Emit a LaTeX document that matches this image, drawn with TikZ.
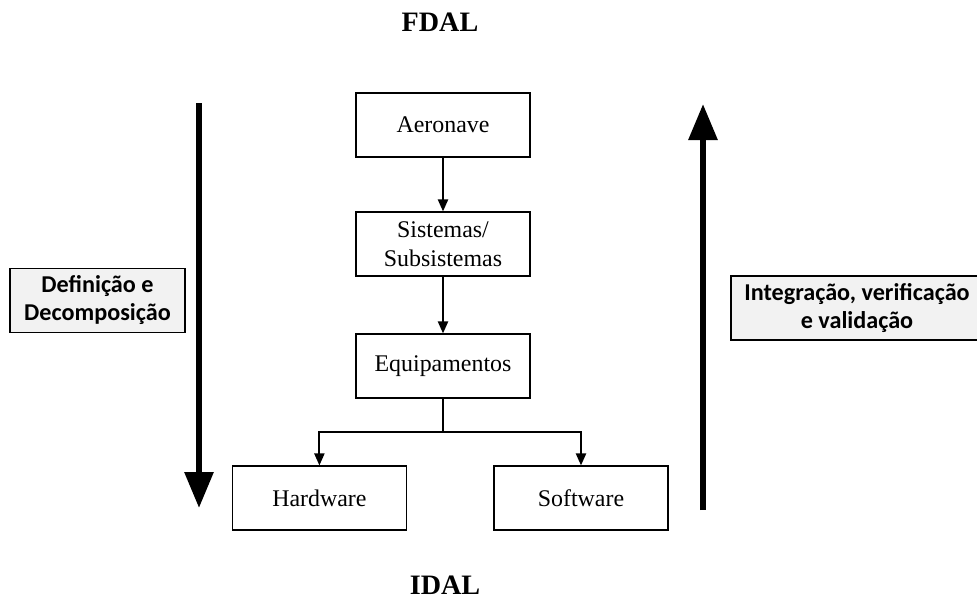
\documentclass[tikz,border=0pt]{standalone}
\usepackage{fontspec}
\setmainfont{Liberation Serif}
\newfontfamily\labelfont{Carlito}
\usetikzlibrary{arrows.meta, positioning}
\definecolor{labelgray}{RGB}{242,242,242}

\begin{document}
\begin{tikzpicture}[node distance=3cm, every node/.style={font=\fontsize{17}{20.5}\selectfont}]
\useasboundingbox (0,0) rectangle (24.425,-15);

% Define styles for the levels and the side labels
\tikzstyle{level} = [rectangle, minimum width=4.35cm, minimum height=1.6cm, text centered, align=center, draw=black, line width=0.8pt]
\tikzstyle{phase} = [rectangle, minimum height=1.6cm, text centered, align=center, draw=black, fill=labelgray, line width=0.8pt, font=\labelfont\bfseries\fontsize{17.2}{20}\selectfont]
\tikzstyle{dal} = [font=\bfseries\fontsize{20}{24}\selectfont]
\tikzstyle{arrow} = [line width=1.5pt, -{Triangle[length=0.3cm, width=0.25cm]}]
\tikzstyle{bigarrow} = [line width=0.15cm, -{Triangle[length=0.9cm, width=0.7cm]}]

% Nodes
\node (fdal) [dal] at (11.0,-0.55) {FDAL};
\node (aero) [level] at (11.075,-3.125) {Aeronave};
\node (sist) [level, below of=aero, node distance=2.975cm] {Sistemas/\\Subsistemas};
\node (equip) [level, below of=sist, node distance=3.05cm] {Equipamentos};
\node (hard) [level, below of=equip, xshift=-3.09cm, node distance=3.3cm] {Hardware};
\node (soft) [level, below of=equip, xshift=3.45cm, node distance=3.3cm] {Software};
\node (idal) [dal] at (11.125,-14.625) {IDAL};

\node (defin) [phase, minimum width=4.375cm] at (2.4375,-7.51) {Definição e\\Decomposição};
\node (integ) [phase, minimum width=6.3cm] at (21.425,-7.7) {Integração, verificação\\e validação};

% Side arrows
\coordinate (downtop) at (4.975,-2.575);
\coordinate (downbot) at (4.975,-12.7);
\coordinate (upbot) at (17.575,-12.75);
\coordinate (uptop) at (17.575,-2.6);
\draw [bigarrow] (downtop) -- (downbot);
\draw [bigarrow] (upbot) -- (uptop);

% Arrows
\draw [arrow] (aero) -- (sist);
\draw [arrow] (sist) -- (equip);
\draw [arrow] (equip.south) -- ++(0,-0.825) -| (hard.north);
\draw [arrow] (equip.south) -- ++(0,-0.825) -| (soft.north);

\end{tikzpicture}
\end{document}
